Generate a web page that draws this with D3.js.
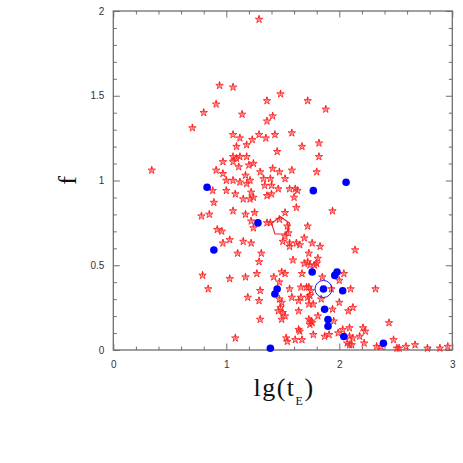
<!DOCTYPE html>
<html><head><meta charset="utf-8">
<script src="https://cdn.jsdelivr.net/npm/d3@7"></script>
<style>html,body{margin:0;padding:0;background:#fff;}svg{display:block;}</style>
</head><body>
<script>
// Red stars: [lg(tE), f]
const starX = [1.29,0.94,1.06,1.36,1.48,0.91,0.80,1.14,1.36,1.41,0.70,1.06,1.12,1.29,1.35,1.43,1.09,1.18,1.23,1.45,
1.06,1.09,1.12,1.18,0.97,1.06,1.11,1.20,1.24,1.41,1.30,1.47,0.91,0.97,1.17,1.39,0.34,1.72,1.88,1.58,
1.82,1.67,1.82,1.58,1.80,1.00,1.06,1.12,1.21,1.33,1.52,1.34,1.40,1.18,1.46,0.88,1.00,1.08,1.22,1.36,
1.40,1.56,1.61,1.63,1.60,1.15,1.21,1.24,0.89,1.62,1.94,1.52,1.06,1.17,1.25,0.85,0.78,1.47,1.22,1.24,
1.36,1.39,1.54,1.55,1.52,1.72,0.92,0.96,0.97,1.03,1.15,1.22,1.50,1.56,1.62,1.65,1.69,1.76,1.83,2.14,
1.31,1.29,1.10,1.56,1.73,1.59,1.69,1.72,1.74,1.78,1.81,1.80,1.49,1.52,0.79,1.03,1.17,1.27,1.42,1.47,
1.67,1.85,2.04,2.00,0.84,1.30,1.19,1.29,1.56,1.66,1.71,1.73,1.75,1.93,2.10,2.32,1.47,1.49,1.58,1.64,
1.72,1.74,1.66,1.73,1.77,1.84,2.00,1.48,1.50,1.46,1.64,1.94,2.08,2.12,1.30,1.52,1.49,1.73,1.75,1.76,
1.74,1.81,1.95,2.44,1.64,1.65,1.77,1.87,1.91,1.53,1.54,1.61,1.67,1.08,2.03,2.09,2.09,2.12,2.18,2.21,
2.23,2.07,2.09,2.11,2.22,2.33,2.37,2.48,2.51,2.53,2.59,2.67,2.78,2.89,2.96,1.99];
const starF = [1.95,1.56,1.55,1.47,1.51,1.45,1.40,1.39,1.35,1.38,1.31,1.27,1.25,1.27,1.25,1.27,1.20,1.21,1.24,1.17,
1.14,1.13,1.14,1.14,1.11,1.11,1.08,1.09,1.10,1.07,1.05,1.05,1.06,1.04,1.03,1.01,1.06,1.47,1.42,1.28,
1.22,1.20,1.14,1.06,1.05,1.00,1.00,0.99,1.00,1.01,1.01,0.97,0.97,0.98,0.95,0.94,0.94,0.92,0.93,0.91,
0.92,0.95,0.95,0.94,0.90,0.89,0.89,0.90,0.87,0.84,0.82,0.81,0.82,0.80,0.81,0.80,0.79,0.77,0.76,0.72,
0.75,0.75,0.73,0.69,0.67,0.73,0.71,0.70,0.63,0.65,0.64,0.63,0.64,0.63,0.63,0.62,0.66,0.63,0.61,0.59,
0.57,0.52,0.57,0.61,0.57,0.53,0.51,0.52,0.50,0.50,0.54,0.51,0.46,0.45,0.44,0.42,0.43,0.45,0.43,0.40,
0.45,0.43,0.45,0.41,0.36,0.35,0.31,0.29,0.36,0.37,0.37,0.37,0.35,0.36,0.36,0.36,0.30,0.28,0.31,0.29,
0.31,0.32,0.31,0.27,0.27,0.30,0.28,0.25,0.22,0.23,0.23,0.24,0.23,0.25,0.18,0.20,0.18,0.18,0.17,0.16,
0.15,0.20,0.17,0.16,0.12,0.11,0.09,0.08,0.09,0.07,0.05,0.06,0.06,0.07,0.12,0.13,0.08,0.07,0.08,0.13,
0.11,0.04,0.03,0.03,0.04,0.02,0.02,0.06,0.01,0.01,0.02,0.03,0.01,0.01,0.02,0.10];
// Blue dots
const dotX = [0.83,2.06,1.77,0.89,1.28,1.76,1.96,1.98,1.45,1.43,1.86,2.03,1.87,1.90,1.90,2.04,2.39,1.39];
const dotF = [0.96,0.99,0.94,0.59,0.75,0.46,0.44,0.46,0.36,0.33,0.36,0.35,0.24,0.18,0.14,0.08,0.04,0.01];
// Highlighted points
const ringPoint = [1.86, 0.36];
const pentagonPoint = [1.48, 0.73];
// Axes
const xDomain = [0, 3], yDomain = [0, 2];
const xMajor = [0, 1, 2, 3], xMinor = [0.2,0.4,0.6,0.8,1.2,1.4,1.6,1.8,2.2,2.4,2.6,2.8];
const yMajor = [0, 0.5, 1, 1.5, 2], yMinor = [0.1,0.2,0.3,0.4,0.6,0.7,0.8,0.9,1.1,1.2,1.3,1.4,1.6,1.7,1.8,1.9];
const xLabels = ["0","1","2","3"], yLabels = ["0","0.5","1","1.5","2"];

const W = 463, H = 463;
const L = 113.3, R = 452.3, T = 11, B = 350;
const svg = d3.select("body").append("svg").attr("width", W).attr("height", H);
const x = d3.scaleLinear().domain(xDomain).range([L, R]);
const y = d3.scaleLinear().domain(yDomain).range([B, T]);
const axisColor = "#6e6e6e";

function styleAxis(g){
  g.select(".domain").remove();
  g.selectAll(".tick line").attr("stroke", axisColor).attr("stroke-width", 1);
}
const tickFont = "Liberation Sans, Arial, sans-serif";
// bottom
svg.append("g").attr("transform",`translate(0,${B})`)
  .call(d3.axisBottom(x).tickValues(xMajor).tickSizeInner(-6.5).tickSizeOuter(0).tickPadding(11).tickFormat((d,i)=>xLabels[i]))
  .call(styleAxis)
  .call(g=>g.selectAll("text").attr("font-family",tickFont).attr("font-size",10).attr("fill","#333"));
svg.append("g").attr("transform",`translate(0,${B})`)
  .call(d3.axisBottom(x).tickValues(xMinor).tickSizeInner(-3.5).tickSizeOuter(0).tickFormat(""))
  .call(styleAxis);
// top
svg.append("g").attr("transform",`translate(0,${T})`)
  .call(d3.axisTop(x).tickValues(xMajor).tickSizeInner(-6.5).tickSizeOuter(0).tickFormat(""))
  .call(styleAxis);
svg.append("g").attr("transform",`translate(0,${T})`)
  .call(d3.axisTop(x).tickValues(xMinor).tickSizeInner(-3.5).tickSizeOuter(0).tickFormat(""))
  .call(styleAxis);
// left
svg.append("g").attr("transform",`translate(${L},0)`)
  .call(d3.axisLeft(y).tickValues(yMajor).tickSizeInner(-6.5).tickSizeOuter(0).tickPadding(9).tickFormat((d,i)=>yLabels[i]))
  .call(styleAxis)
  .call(g=>g.selectAll("text").attr("font-family",tickFont).attr("font-size",10).attr("fill","#333"));
svg.append("g").attr("transform",`translate(${L},0)`)
  .call(d3.axisLeft(y).tickValues(yMinor).tickSizeInner(-3.5).tickSizeOuter(0).tickFormat(""))
  .call(styleAxis);
// right
svg.append("g").attr("transform",`translate(${R},0)`)
  .call(d3.axisRight(y).tickValues(yMajor).tickSizeInner(-6.5).tickSizeOuter(0).tickFormat(""))
  .call(styleAxis);
svg.append("g").attr("transform",`translate(${R},0)`)
  .call(d3.axisRight(y).tickValues(yMinor).tickSizeInner(-3.5).tickSizeOuter(0).tickFormat(""))
  .call(styleAxis);
// frame
svg.append("rect").attr("x",L).attr("y",T).attr("width",R-L).attr("height",B-T)
  .attr("fill","none").attr("stroke",axisColor).attr("stroke-width",1.3);

// stars
const starPath = d3.symbol().type(d3.symbolStar).size(17)();
svg.selectAll("path.star").data(d3.range(starX.length)).join("path")
  .attr("class","star")
  .attr("d", starPath)
  .attr("transform", i=>`translate(${x(starX[i])},${y(starF[i])})`)
  .attr("fill","rgba(255,60,60,0.35)")
  .attr("stroke","#ff2222").attr("stroke-width",0.9);
// small center spike (asterisk look)
svg.selectAll("path.spike").data(d3.range(starX.length)).join("path")
  .attr("class","spike")
  .attr("d","M0,-4.2L0,0.5")
  .attr("transform", i=>`translate(${x(starX[i])},${y(starF[i])})`)
  .attr("stroke","#ff2222").attr("stroke-width",0.9);

// pentagon
const pr = 9.5;
const pent = d3.range(5).map(k=>{const a=-Math.PI/2 + k*2*Math.PI/5; return [pr*Math.cos(a), pr*Math.sin(a)];});
svg.append("path").attr("d", d3.line()(pent)+"Z")
  .attr("transform",`translate(${x(pentagonPoint[0])},${y(pentagonPoint[1])})`)
  .attr("fill","none").attr("stroke","#e8202a").attr("stroke-width",1.1);

// blue dots
svg.selectAll("circle.dot").data(d3.range(dotX.length)).join("circle")
  .attr("class","dot")
  .attr("cx", i=>x(dotX[i])).attr("cy", i=>y(dotF[i])).attr("r",3.8)
  .attr("fill","#0000ff");
// ring
svg.append("circle").attr("cx",x(ringPoint[0])).attr("cy",y(ringPoint[1])).attr("r",8.5)
  .attr("fill","none").attr("stroke","#1a1aff").attr("stroke-width",1);

// axis titles
const xt = svg.append("text").attr("x",284).attr("y",396)
  .attr("text-anchor","middle").attr("font-family","Liberation Serif, DejaVu Serif, serif")
  .attr("font-size",26).attr("letter-spacing",1.5).attr("fill","#111");
xt.append("tspan").text("lg(t");
xt.append("tspan").attr("font-size",12).attr("dy",9).text("E");
xt.append("tspan").attr("dy",-9).text(")");

svg.append("text").attr("transform",`translate(76,${(T+B)/2}) rotate(-90)`)
  .attr("text-anchor","middle").attr("font-family","Liberation Serif, DejaVu Serif, serif")
  .attr("font-size",26).attr("fill","#111").text("f");
</script>
</body></html>
